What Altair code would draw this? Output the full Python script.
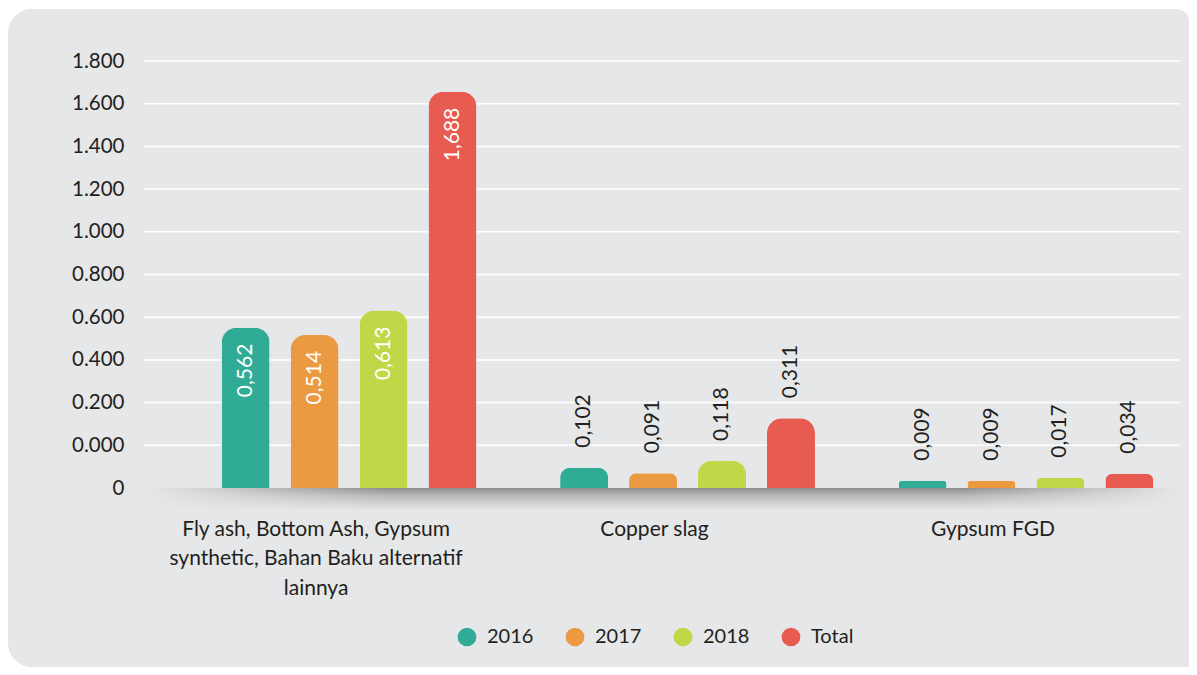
import json
import altair as alt
import pandas as pd

# ---- data ----
categories = [
    "Fly ash, Bottom Ash, Gypsum|synthetic, Bahan Baku alternatif|lainnya",
    "Copper slag",
    "Gypsum FGD",
]
series = ["2016", "2017", "2018", "Total"]
colors = ["#30ab96", "#ec9a42", "#c0d848", "#e85b50"]

# printed value labels
labels_flyash = ["0,562", "0,514", "0,613", "1,688"]
labels_copper = ["0,102", "0,091", "0,118", "0,311"]
labels_fgd = ["0,009", "0,009", "0,017", "0,034"]

# drawn bar heights, read against the drawn axis (real zero at the "0" label)
height_flyash = [0.751, 0.717, 0.831, 1.856]
height_copper = [0.095, 0.069, 0.127, 0.327]
height_fgd = [0.034, 0.034, 0.048, 0.067]

# tick labels of the y axis, bottom to top
y_tick_labels = ["0", "0.000", "0.200", "0.400", "0.600", "0.800",
                 "1.000", "1.200", "1.400", "1.600", "1.800"]

rows = []
for cat, labs, hs, inside in [
    (categories[0], labels_flyash, height_flyash, True),
    (categories[1], labels_copper, height_copper, False),
    (categories[2], labels_fgd, height_fgd, False),
]:
    for s, l, h in zip(series, labs, hs):
        rows.append({"cat": cat, "series": s, "label": l, "h": h, "inside": inside})
df = pd.DataFrame(rows)

FONT = "Lato"
TXT = "#231f20"
BG = "#e6e7e8"
W, H = 1036, 427
PAD = {"left": 136, "top": 53, "right": 9, "bottom": 179}

tick_values = [round(i * 0.2, 1) for i in range(len(y_tick_labels))]
label_expr = json.dumps(y_tick_labels) + "[round(datum.value * 5)]"
yscale = alt.Scale(domain=[0, 2.0], nice=False, zero=True)

x_enc = alt.X(
    "cat:N", sort=categories, title=None,
    scale=alt.Scale(paddingInner=0.247, paddingOuter=0.154, align=0.745),
    axis=alt.Axis(labelExpr="split(datum.label, '|')", labelAngle=0,
                  domain=False, ticks=False, labelPadding=30, labelOffset=-33,
                  labelLimit=0, labelLineHeight=29.5, labelFontSize=21,
                  labelColor=TXT, labelFont=FONT, zindex=1),
)
xo_enc = alt.XOffset("series:N", sort=series,
                     scale=alt.Scale(paddingInner=0.304, paddingOuter=0))
y_enc = alt.Y(
    "h:Q", title=None, scale=yscale,
    axis=alt.Axis(values=tick_values, labelExpr=label_expr, domain=False,
                  ticks=False, labelPadding=20, labelFontSize=20.5,
                  labelColor=TXT, labelFont=FONT, grid=False, zindex=1),
)

base = alt.Chart(df)
one = pd.DataFrame({"z": [0]})

# rounded background panel (decoration)
panel = alt.Chart(one).mark_rect(
    cornerRadiusTopLeft=24, cornerRadiusTopRight=12,
    cornerRadiusBottomLeft=24, cornerRadiusBottomRight=0, color=BG,
).encode(
    x=alt.value(-PAD["left"]), x2=alt.value(W + PAD["right"]),
    y=alt.value(-PAD["top"] + 1), y2=alt.value(H + PAD["bottom"]),
)

# white gridlines at the labelled ticks (none at the "0" baseline)
grid = alt.Chart(pd.DataFrame({"h": tick_values[1:]})).mark_rule(
    color="white", strokeWidth=1.5,
).encode(y=y_enc, x=alt.value(0), x2=alt.value(W))

# soft shadow under the baseline (decoration)
shadow = alt.Chart(one).mark_rect(
    y2Offset=22,
    color={
        "gradient": "linear", "x1": 0, "y1": 0, "x2": 0, "y2": 1,
        "stops": [
            {"offset": 0, "color": "#8e8f90"},
            {"offset": 0.35, "color": "#b8b9ba"},
            {"offset": 1, "color": BG},
        ],
    },
).encode(
    x=alt.value(6), x2=alt.value(W),
    y=alt.Y("z:Q", scale=yscale), y2=alt.Y2("z:Q"),
)
fade_left = alt.Chart(one).mark_rect(
    y2Offset=24,
    color={
        "gradient": "linear", "x1": 0, "y1": 0, "x2": 1, "y2": 0,
        "stops": [
            {"offset": 0, "color": "rgba(230,231,232,1)"},
            {"offset": 1, "color": "rgba(230,231,232,0)"},
        ],
    },
).encode(
    x=alt.value(0), x2=alt.value(240),
    y=alt.Y("z:Q", scale=yscale), y2=alt.Y2("z:Q"),
)
fade_right = alt.Chart(one).mark_rect(
    y2Offset=24,
    color={
        "gradient": "linear", "x1": 0, "y1": 0, "x2": 1, "y2": 0,
        "stops": [
            {"offset": 0, "color": "rgba(230,231,232,0)"},
            {"offset": 1, "color": "rgba(230,231,232,1)"},
        ],
    },
).encode(
    x=alt.value(820), x2=alt.value(W + 2),
    y=alt.Y("z:Q", scale=yscale), y2=alt.Y2("z:Q"),
)

bars = base.mark_bar(cornerRadiusTopLeft=15, cornerRadiusTopRight=15).encode(
    x=x_enc, xOffset=xo_enc, y=y_enc,
    color=alt.Color(
        "series:N", sort=series,
        scale=alt.Scale(domain=series, range=colors),
        legend=alt.Legend(
            title=None, orient="none", direction="horizontal", columns=4,
            legendX=313, legendY=566, symbolType="circle", symbolSize=350,
            symbolStrokeWidth=0, labelFontSize=20, labelFont=FONT,
            labelColor=TXT, labelOffset=10, columnPadding=31,
        ),
    ),
)

inside_txt = base.transform_filter("datum.inside").mark_text(
    angle=270, align="right", baseline="middle", dx=-16,
    color="white", fontSize=21, font=FONT,
).encode(x=x_enc, xOffset=xo_enc, y=y_enc, text="label:N")

outside_txt = base.transform_filter("!datum.inside").mark_text(
    angle=270, align="left", baseline="middle", dx=20,
    color=TXT, fontSize=21, font=FONT,
).encode(x=x_enc, xOffset=xo_enc, y=y_enc, text="label:N")

chart = alt.layer(panel, grid, shadow, fade_left, fade_right, bars,
                  inside_txt, outside_txt).properties(
    width=W, height=H,
    autosize=alt.AutoSizeParams(type="none"),
    padding=PAD,
    background="white",
).configure_view(strokeWidth=0)

chart.save("out.html", embed_options={"renderer": "svg", "actions": False})
